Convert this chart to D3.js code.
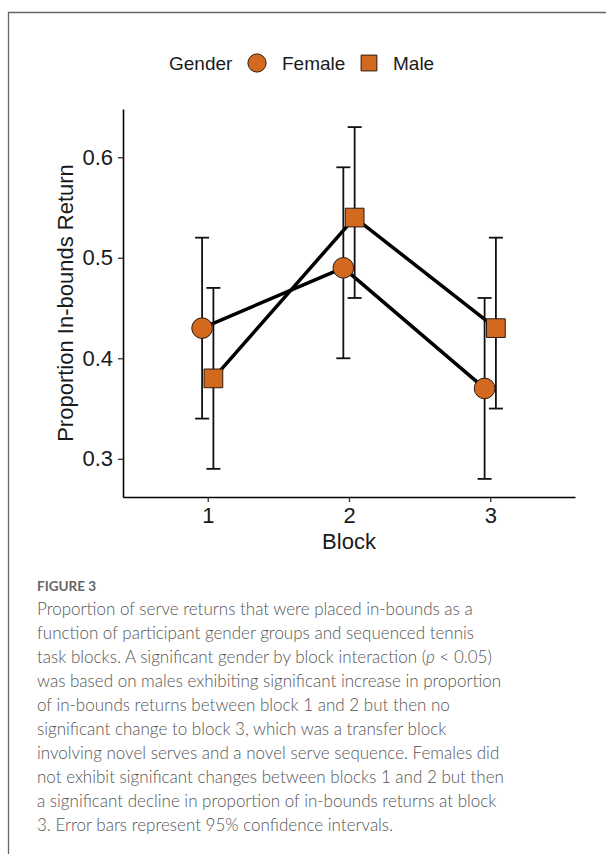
<!DOCTYPE html>
<html>
<head>
<meta charset="utf-8">
<script src="https://cdn.jsdelivr.net/npm/d3@7"></script>
<style>
  body { margin: 0; background: #fff; }
  svg { display: block; }
</style>
</head>
<body>
<div id="main-chart"></div>
<script>
const width = 606;
const height = 854;
const plot = { left: 123, right: 575, top: 109, bottom: 497 };

const blocks = [1, 2, 3];
const femaleMean = [0.43, 0.49, 0.37];
const femaleLow = [0.34, 0.40, 0.28];
const femaleHigh = [0.52, 0.59, 0.46];
const maleMean = [0.38, 0.54, 0.43];
const maleLow = [0.29, 0.46, 0.35];
const maleHigh = [0.47, 0.63, 0.52];
const yTicks = [0.3, 0.4, 0.5, 0.6];

const captionLines = [
  "Proportion of serve returns that were placed in-bounds as a",
  "function of participant gender groups and sequenced tennis",
  "task blocks. A significant gender by block interaction (|p| < 0.05)",
  "was based on males exhibiting significant increase in proportion",
  "of in-bounds returns between block 1 and 2 but then no",
  "significant change to block 3, which was a transfer block",
  "involving novel serves and a novel serve sequence. Females did",
  "not exhibit significant changes between blocks 1 and 2 but then",
  "a significant decline in proportion of in-bounds returns at block",
  "3. Error bars represent 95% confidence intervals.",
];

const fill = "#d2691e";
const dodge = 0.04;

const series = [
  { gender: "Female", mean: femaleMean, low: femaleLow, high: femaleHigh, offset: -dodge },
  { gender: "Male", mean: maleMean, low: maleLow, high: maleHigh, offset: dodge },
].map((s) => ({
  ...s,
  points: blocks.map((b, i) => ({
    block: b + s.offset,
    mean: s.mean[i],
    low: s.low[i],
    high: s.high[i],
  })),
}));

const svg = d3
  .select("#main-chart")
  .append("svg")
  .attr("width", width)
  .attr("height", height);

// frame of the figure box
svg
  .append("path")
  .attr("d", `M8.5,${height} V12.5 H${width}`)
  .attr("fill", "none")
  .attr("stroke", "#666")
  .attr("stroke-width", 1.3);

const x = d3.scaleLinear().domain([0.4, 3.6]).range([plot.left, plot.right]);
const y = d3.scaleLinear().domain([0.262, 0.648]).range([plot.bottom, plot.top]);

const font = "'Liberation Sans', Arial, sans-serif";

// axes
const xAxis = svg
  .append("g")
  .attr("transform", `translate(0, ${plot.bottom})`)
  .call(d3.axisBottom(x).tickValues(blocks).tickFormat(d3.format("d")).tickSize(5).tickSizeOuter(0).tickPadding(5));

const yAxis = svg
  .append("g")
  .attr("transform", `translate(${plot.left}, 0)`)
  .call(d3.axisLeft(y).tickValues(yTicks).tickFormat(d3.format(".1f")).tickSize(5).tickSizeOuter(0).tickPadding(5));

[xAxis, yAxis].forEach((a) => {
  a.select(".domain").attr("stroke", "#000").attr("stroke-width", 1.6);
  a.selectAll(".tick line").attr("stroke", "#333").attr("stroke-width", 1.3);
  a.selectAll(".tick text")
    .attr("fill", "#1a1a1a")
    .style("font-family", font)
    .style("font-size", "22px");
});

svg
  .append("text")
  .attr("x", x(2))
  .attr("y", 549)
  .attr("text-anchor", "middle")
  .style("font-family", font)
  .style("font-size", "22px")
  .attr("fill", "#1a1a1a")
  .text("Block");

svg
  .append("text")
  .attr("transform", `translate(73, ${(plot.top + plot.bottom) / 2}) rotate(-90)`)
  .attr("text-anchor", "middle")
  .style("font-family", font)
  .style("font-size", "22px")
  .attr("fill", "#1a1a1a")
  .text("Proportion In-bounds Return");

// lines
const line = d3
  .line()
  .x((d) => x(d.block))
  .y((d) => y(d.mean));

svg
  .selectAll(".series-line")
  .data(series)
  .join("path")
  .attr("class", "series-line")
  .attr("d", (d) => line(d.points))
  .attr("fill", "none")
  .attr("stroke", "#000")
  .attr("stroke-width", 3.5);

// error bars
const capHalf = 7;
const errG = svg
  .selectAll(".err")
  .data(series.flatMap((s) => s.points))
  .join("g")
  .attr("class", "err")
  .attr("stroke", "#111")
  .attr("stroke-width", 1.8);

errG
  .append("line")
  .attr("x1", (d) => x(d.block))
  .attr("x2", (d) => x(d.block))
  .attr("y1", (d) => y(d.low))
  .attr("y2", (d) => y(d.high));

errG
  .append("line")
  .attr("x1", (d) => x(d.block) - capHalf)
  .attr("x2", (d) => x(d.block) + capHalf)
  .attr("y1", (d) => y(d.low))
  .attr("y2", (d) => y(d.low));

errG
  .append("line")
  .attr("x1", (d) => x(d.block) - capHalf)
  .attr("x2", (d) => x(d.block) + capHalf)
  .attr("y1", (d) => y(d.high))
  .attr("y2", (d) => y(d.high));

// markers
const symbolFor = (g) =>
  g === "Female" ? d3.symbol(d3.symbolCircle, 335) : d3.symbol(d3.symbolSquare, 350);

series.forEach((s) => {
  svg
    .selectAll(`.pt-${s.gender}`)
    .data(s.points)
    .join("path")
    .attr("class", `pt-${s.gender}`)
    .attr("transform", (d) => `translate(${x(d.block)}, ${y(d.mean)})`)
    .attr("d", symbolFor(s.gender)())
    .attr("fill", fill)
    .attr("stroke", "#2a1a10")
    .attr("stroke-width", 1);
});

// legend
const legend = svg.append("g").attr("transform", "translate(0, 63)");
legend
  .append("text")
  .attr("x", 169)
  .attr("y", 7)
  .style("font-family", font)
  .style("font-size", "19px")
  .attr("fill", "#1a1a1a")
  .text("Gender");

const legendItems = [
  { gender: "Female", sx: 257, tx: 282, size: 260 },
  { gender: "Male", sx: 369, tx: 393, size: 250 },
];

legendItems.forEach((d) => {
  legend
    .append("path")
    .attr("transform", `translate(${d.sx}, 0)`)
    .attr("d", (d.gender === "Female" ? d3.symbol(d3.symbolCircle, d.size) : d3.symbol(d3.symbolSquare, d.size))())
    .attr("fill", fill)
    .attr("stroke", "#2a1a10")
    .attr("stroke-width", 1);
  legend
    .append("text")
    .attr("x", d.tx)
    .attr("y", 7)
    .style("font-family", font)
    .style("font-size", "19px")
    .attr("fill", "#1a1a1a")
    .text(d.gender);
});

// caption
const capFont = "Lato, 'Open Sans', sans-serif";
svg
  .append("text")
  .attr("x", 37)
  .attr("y", 591)
  .style("font-family", capFont)
  .style("font-size", "13.5px")
  .style("font-weight", 700)
  .attr("fill", "#666")
  .text("FIGURE 3");

const caption = svg
  .append("text")
  .attr("x", 37)
  .attr("y", 615)
  .style("font-family", capFont)
  .style("font-size", "18.5px")
  .style("font-weight", 300)
  .attr("fill", "#555");

captionLines.forEach((ln, i) => {
  const row = caption
    .append("tspan")
    .attr("x", 37)
    .attr("y", 615 + i * 24);
  ln.split("|").forEach((part, j) => {
    row
      .append("tspan")
      .style("font-style", j % 2 === 1 ? "italic" : "normal")
      .text(part);
  });
});

// fit the caption so the first line spans the same width as the source
const firstRow = caption.select("tspan").node();
const rowWidth = firstRow.getComputedTextLength();
caption.style("font-size", `${(18.5 * 436) / rowWidth}px`);
</script>
</body>
</html>
